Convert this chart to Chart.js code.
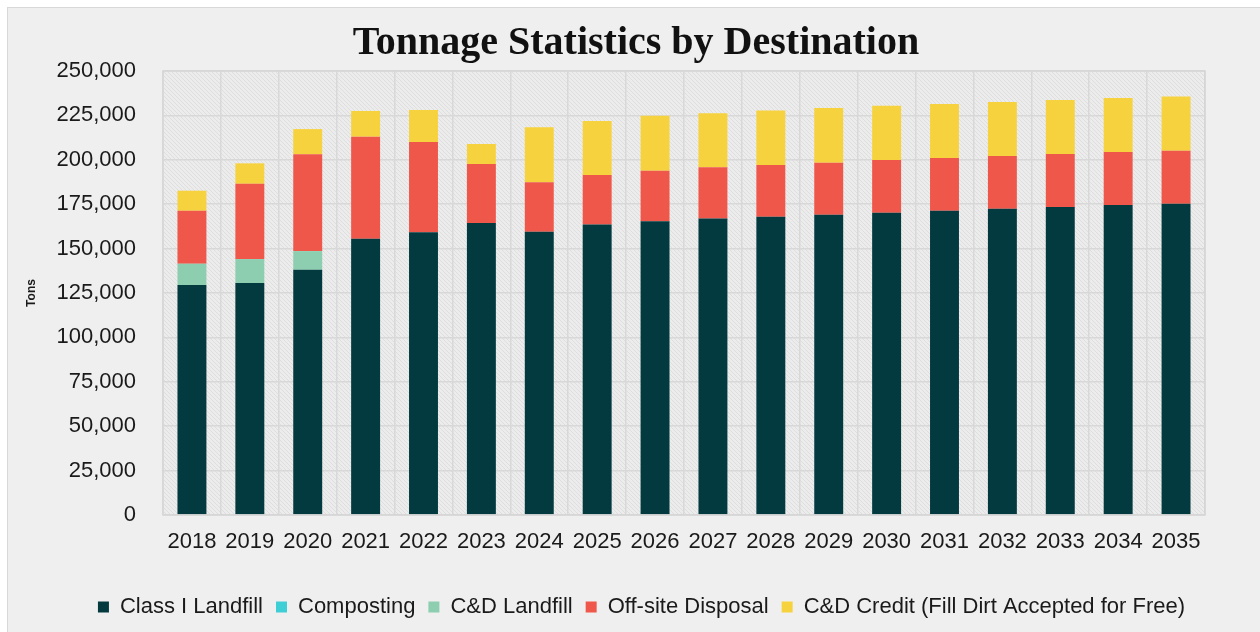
<!DOCTYPE html>
<html>
<head>
<meta charset="utf-8">
<script src="https://cdn.jsdelivr.net/npm/chart.js@4.4.1/dist/chart.umd.min.js"></script>
<style>
  html, body { margin: 0; padding: 0; background: #ffffff; width: 1260px; height: 632px; overflow: hidden; }
  #panel { position: absolute; left: 7px; top: 7px; width: 1270px; height: 640px; background: #efefef; border: 1px solid #d8d8d8; box-sizing: border-box; }
  #wrap { position: absolute; left: 0; top: 0; width: 1260px; height: 632px; }
  #title { position: absolute; left: 236px; width: 800px; top: 17px; text-align: center; margin: 0;
           font-family: 'Liberation Serif', 'DejaVu Serif', serif; font-weight: bold; font-size: 40px; line-height: 48px; color: #111; }
</style>
</head>
<body>
<div id="panel"></div>
<div id="wrap"><canvas id="c" width="1260" height="632"></canvas></div>
<h1 id="title">Tonnage Statistics by Destination</h1>
<script>
const years = ['2018','2019','2020','2021','2022','2023','2024','2025','2026','2027','2028','2029','2030','2031','2032','2033','2034','2035'];
const classILandfill = [129500,130600,138100,155600,159200,164400,159500,163500,165400,166900,168000,169100,170200,171300,172500,173400,174500,175300];
const composting = [0,0,0,0,0,0,0,0,0,0,0,0,0,0,0,0,0,0];
const cdLandfill = [12000,13500,10500,0,0,0,0,0,0,0,0,0,0,0,0,0,0,0];
const offsiteDisposal = [29800,42400,54500,57400,50800,33200,27800,27900,28500,28900,29100,29300,29700,29700,29600,29900,29900,29800];
const cdCredit = [11300,11500,14200,14500,18000,11300,31000,30400,30900,30400,30600,30800,30600,30400,30400,30400,30400,30600];
const yTicks = [0,25000,50000,75000,100000,125000,150000,175000,200000,225000,250000];

// hatch pattern for plot area
const pc = document.createElement('canvas');
pc.width = 4; pc.height = 4;
const px = pc.getContext('2d');
px.fillStyle = '#ececec';
px.fillRect(0,0,4,4);
px.strokeStyle = '#dedede';
px.lineWidth = 1;
px.beginPath();
px.moveTo(-1,-1); px.lineTo(5,5);
px.moveTo(-1,3); px.lineTo(1,5);
px.moveTo(3,-1); px.lineTo(5,1);
px.stroke();

const plotBg = {
  id: 'plotBg',
  afterLayout(chart) {
    // the reference legend sits slightly right of the plot's centre
    if (chart.legend) { chart.legend.left += 29; chart.legend.right += 29; }
  },
  beforeDraw(chart) {
    const {ctx, chartArea: a} = chart;
    ctx.save();
    ctx.fillStyle = ctx.createPattern(pc, 'repeat');
    ctx.fillRect(a.left, a.top, a.right - a.left, a.bottom - a.top);
    ctx.restore();
  },
  afterDatasetsDraw(chart) {
    const {ctx, chartArea: a} = chart;
    ctx.save();
    ctx.strokeStyle = '#d6d6d6';
    ctx.lineWidth = 1.5;
    ctx.strokeRect(a.left, a.top, a.right - a.left, a.bottom - a.top);
    ctx.restore();
  }
};

Chart.defaults.font.family = "'Liberation Sans', Arial, sans-serif";
Chart.defaults.color = '#1a1a1a';

new Chart(document.getElementById('c'), {
  type: 'bar',
  data: {
    labels: years,
    datasets: [
      { label: 'Class I Landfill', data: classILandfill, backgroundColor: '#033a40' },
      { label: 'Composting', data: composting, backgroundColor: '#3ecfd6' },
      { label: 'C&D Landfill', data: cdLandfill, backgroundColor: '#8dceb0' },
      { label: 'Off-site Disposal', data: offsiteDisposal, backgroundColor: '#f0574b' },
      { label: 'C&D Credit (Fill Dirt Accepted for Free)', data: cdCredit, backgroundColor: '#f7d23f' }
    ]
  },
  options: {
    responsive: false,
    animation: false,
    layout: { padding: { left: 20, right: 55, top: 71, bottom: 4 } },
    datasets: { bar: { categoryPercentage: 0.5, barPercentage: 1.0 } },
    plugins: {
      title: { display: false },
      legend: {
        position: 'bottom',
        labels: {
          font: { size: 22 },
          color: '#1a1a1a',
          boxWidth: 11,
          boxHeight: 11,
          padding: 13
        }
      },
      tooltip: { enabled: false }
    },
    scales: {
      x: {
        stacked: true,
        grid: { color: '#d8d8d8', lineWidth: 1.5, drawTicks: false, offset: true },
        border: { display: false },
        ticks: { font: { size: 22 }, color: '#1a1a1a', padding: 14 },
        afterFit: (s) => { s.height = 68; }
      },
      y: {
        stacked: true,
        min: 0,
        max: 250000,
        grid: { color: '#d8d8d8', lineWidth: 1.5, drawTicks: false },
        border: { display: false },
        afterBuildTicks: (s) => { s.ticks = yTicks.map(v => ({ value: v })); },
        afterFit: (s) => { s.width = 143; },
        ticks: {
          font: { size: 22 },
          color: '#1a1a1a',
          padding: 27,
          callback: (v) => Number(v).toLocaleString('en-US')
        },
        title: {
          display: true,
          text: 'Tons',
          font: { size: 12, weight: 'bold' },
          color: '#1a1a1a',
          padding: { top: 4, bottom: 26 }
        }
      }
    }
  },
  plugins: [plotBg]
});
</script>
</body>
</html>
